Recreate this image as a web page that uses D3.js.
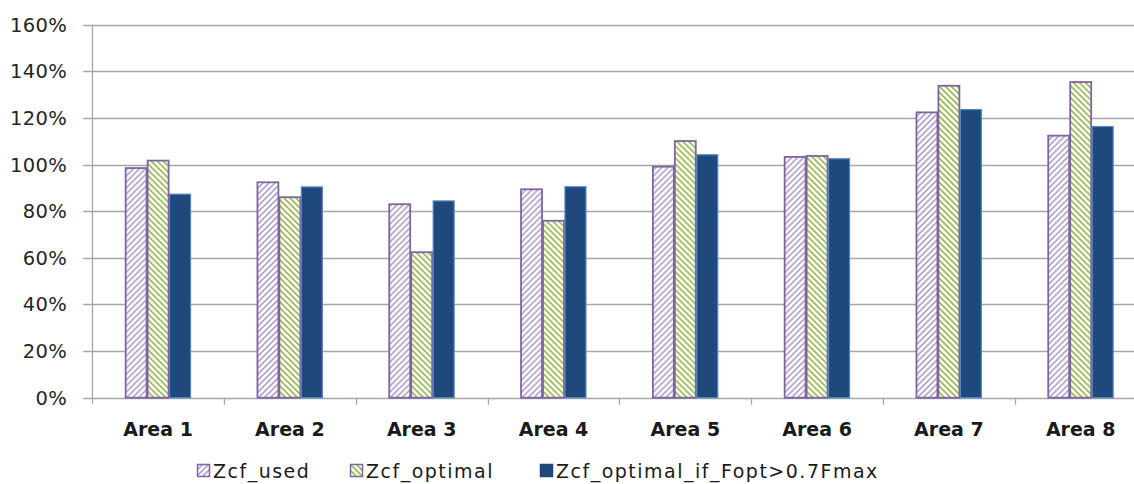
<!DOCTYPE html>
<html>
<head>
<meta charset="utf-8">
<script src="https://cdn.jsdelivr.net/npm/d3@7"></script>
<style>
  html, body { margin: 0; padding: 0; background: #fff; }
  svg { display: block; }
</style>
</head>
<body>
<svg id="chart" width="1134" height="484"></svg>
<script>
const categories = ["Area 1", "Area 2", "Area 3", "Area 4", "Area 5", "Area 6", "Area 7", "Area 8"];
const seriesNames = ["Zcf_used", "Zcf_optimal", "Zcf_optimal_if_Fopt>0.7Fmax"];
const zcfUsed = [98.5, 92.4, 83.0, 89.4, 99.1, 103.3, 122.4, 112.4];
const zcfOptimal = [101.7, 86.0, 62.4, 75.9, 110.1, 103.7, 133.8, 135.4];
const zcfOptimalIf = [87.3, 90.4, 84.4, 90.5, 104.2, 102.5, 123.6, 116.3];
const yTicks = [0, 20, 40, 60, 80, 100, 120, 140, 160];

const seriesValues = [zcfUsed, zcfOptimal, zcfOptimalIf];

const svg = d3.select("#chart");
const W = 1134, H = 484;
const plotLeft = 92.2, plotRight = 1146.6, yTop = 24.7, yBottom = 397.7;

const defs = svg.append("defs");
// hatch patterns
const p1 = defs.append("pattern").attr("id", "hatchUsed").attr("patternUnits", "userSpaceOnUse")
  .attr("width", 6).attr("height", 6);
p1.append("rect").attr("width", 6).attr("height", 6).attr("fill", "#fff");
p1.append("path").attr("d", "M-1,1 l2,-2 M0,6 l6,-6 M5,7 l2,-2")
  .attr("stroke", "#b3a2c7").attr("stroke-width", 1.6);
const p2 = defs.append("pattern").attr("id", "hatchOpt").attr("patternUnits", "userSpaceOnUse")
  .attr("width", 6).attr("height", 6);
p2.append("rect").attr("width", 6).attr("height", 6).attr("fill", "#fff");
p2.append("path").attr("d", "M-1,5 l2,2 M0,0 l6,6 M5,-1 l2,2")
  .attr("stroke", "#9bbb59").attr("stroke-width", 1.8);
defs.append("clipPath").attr("id", "clipPlot").append("rect")
  .attr("x", 0).attr("y", 0).attr("width", W).attr("height", H);

const fills = ["url(#hatchUsed)", "url(#hatchOpt)", "#1f497d"];
const strokes = ["#8064a2", "#8064a2", "#5585c0"];
const legendStrokes = ["#8064a2", "#8064a2", "#1f497d"];

const x0 = d3.scaleBand().domain(categories).range([plotLeft, plotRight]).paddingInner(0).paddingOuter(0);
const x1 = d3.scaleBand().domain(seriesNames).range([0, x0.bandwidth()]).paddingInner(0).paddingOuter(1.5);
const y = d3.scaleLinear().domain([0, 160]).range([yBottom, yTop]);

// gridlines
svg.append("g").selectAll("line").data(yTicks).join("line")
  .attr("x1", plotLeft - 9).attr("x2", W)
  .attr("y1", d => Math.round(y(d)) + 0.5).attr("y2", d => Math.round(y(d)) + 0.5)
  .attr("stroke", "#a6a6a6").attr("stroke-width", 1.3);

// y axis line
svg.append("line").attr("x1", Math.round(plotLeft) + 0.5).attr("x2", Math.round(plotLeft) + 0.5)
  .attr("y1", y(160)).attr("y2", yBottom + 6)
  .attr("stroke", "#a6a6a6").attr("stroke-width", 1.3);

// x ticks at category boundaries
const boundaries = categories.slice(1).map(c => x0(c));
svg.append("g").selectAll("line").data(boundaries).join("line")
  .attr("x1", d => Math.round(d) + 0.5).attr("x2", d => Math.round(d) + 0.5)
  .attr("y1", yBottom).attr("y2", yBottom + 7)
  .attr("stroke", "#a6a6a6").attr("stroke-width", 1.3);

// y labels
svg.append("g").selectAll("text").data(yTicks).join("text")
  .attr("x", 67).attr("y", d => y(d) + 7)
  .attr("text-anchor", "end")
  .attr("font-family", "DejaVu Sans, sans-serif").attr("font-size", 19.5)
  .attr("letter-spacing", 0.3)
  .attr("fill", "#262626")
  .text(d => d + "%");

// bars
const groups = svg.append("g").attr("clip-path", "url(#clipPlot)")
  .selectAll("g").data(categories).join("g")
  .attr("transform", c => `translate(${x0(c)},0)`);
groups.selectAll("rect").data((c, i) => seriesNames.map((s, k) => ({ s, k, v: seriesValues[k][i] })))
  .join("rect")
  .attr("x", d => x1(d.s) + 0.5)
  .attr("width", x1.bandwidth() - 1)
  .attr("y", d => y(d.v))
  .attr("height", d => yBottom - y(d.v))
  .attr("fill", d => fills[d.k])
  .attr("stroke", d => strokes[d.k])
  .attr("stroke-width", d => d.k === 2 ? 1.2 : 1.8);

// category labels
svg.append("g").selectAll("text").data(categories).join("text")
  .attr("x", c => x0(c) + x0.bandwidth() / 2)
  .attr("y", 436)
  .attr("text-anchor", "middle")
  .attr("font-family", "DejaVu Sans, sans-serif").attr("font-weight", "bold").attr("font-size", 19)
  .attr("fill", "#1a1a1a")
  .text(c => c);

// legend
const legendX = [197, 350, 540];
const leg = svg.append("g").selectAll("g").data(seriesNames).join("g")
  .attr("transform", (d, i) => `translate(${legendX[i]},464)`);
leg.append("rect").attr("x", 0.5).attr("y", 0.5).attr("width", 12).attr("height", 12)
  .attr("fill", (d, i) => fills[i]).attr("stroke", (d, i) => legendStrokes[i]).attr("stroke-width", 1.5);
leg.append("text").attr("x", 16).attr("y", 13.5)
  .attr("font-family", "DejaVu Sans, sans-serif").attr("font-size", 19)
  .attr("letter-spacing", 1.5)
  .attr("fill", "#1a1a1a")
  .text(d => d);
</script>
</body>
</html>
